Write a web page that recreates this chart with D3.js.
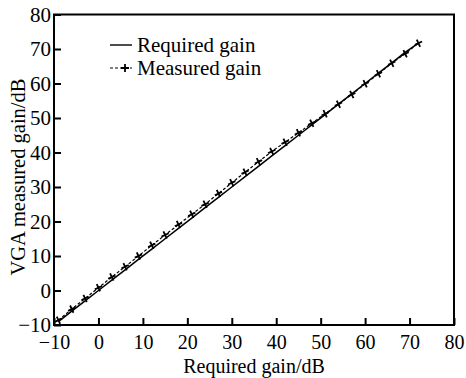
<!DOCTYPE html>
<html>
<head>
<meta charset="utf-8">
<script src="https://cdn.jsdelivr.net/npm/d3@7"></script>
<style>
  body { margin: 0; background: #fff; }
  text { font-family: "Liberation Serif", "Times New Roman", serif; fill: #000; }
</style>
</head>
<body>
<div id="chart"></div>
<script>
// data
var requiredX = [-9, -6, -3, 0, 3, 6, 9, 12, 15, 18, 21, 24, 27, 30, 33, 36, 39, 42, 45, 48, 51, 54, 57, 60, 63, 66, 69, 72];
var requiredY = [-9, -6, -3, 0, 3, 6, 9, 12, 15, 18, 21, 24, 27, 30, 33, 36, 39, 42, 45, 48, 51, 54, 57, 60, 63, 66, 69, 71.7];
var measuredX = [-9, -6, -3, 0, 3, 6, 9, 12, 15, 18, 21, 24, 27, 30, 33, 36, 39, 42, 45, 48, 51, 54, 57, 60, 63, 66, 69, 72];
var measuredY = [-8.6, -5.4, -2.3, 0.8, 3.9, 6.9, 10.0, 13.1, 16.1, 19.1, 22.1, 25.0, 28.1, 31.2, 34.3, 37.3, 40.3, 43.0, 45.7, 48.5, 51.2, 54.0, 56.8, 59.9, 62.8, 65.9, 68.6, 71.7];
var xTicks = [-10, 0, 10, 20, 30, 40, 50, 60, 70, 80];
var yTicks = [-10, 0, 10, 20, 30, 40, 50, 60, 70, 80];
var seriesNames = ["Required gain", "Measured gain"];

var margin = {top: 14.5, right: 12, bottom: 53, left: 54},
    width = 466 - margin.left - margin.right,
    height = 378 - margin.top - margin.bottom;

var svg = d3.select("#chart")
  .append("svg")
    .attr("width", 466)
    .attr("height", 378)
  .append("g")
    .attr("transform", "translate(" + margin.left + "," + margin.top + ")");

var x = d3.scaleLinear().domain([-10, 80]).range([0, width]);
var y = d3.scaleLinear().domain([-10, 80]).range([height, 0]);

// frame
svg.append("rect")
  .attr("width", width)
  .attr("height", height)
  .attr("fill", "none")
  .attr("stroke", "#000")
  .attr("stroke-width", 2);

// x axis, ticks pointing in
var xAxis = svg.append("g")
  .attr("transform", "translate(0," + height + ")")
  .call(d3.axisBottom(x).tickValues(xTicks).tickSizeInner(-7).tickSizeOuter(0).tickPadding(10));
xAxis.select(".domain").remove();
xAxis.selectAll("line").attr("stroke-width", 2);
xAxis.selectAll("text").style("font-size", "20px").style("font-family", "Liberation Serif");

// y axis
var yAxis = svg.append("g")
  .call(d3.axisLeft(y).tickValues(yTicks).tickSizeInner(-7).tickSizeOuter(0).tickPadding(3));
yAxis.select(".domain").remove();
yAxis.selectAll("line").attr("stroke-width", 2);
yAxis.selectAll("text").style("font-size", "21px").style("font-family", "Liberation Serif");

// axis titles
svg.append("text")
  .attr("x", width / 2)
  .attr("y", 373 - margin.top)
  .style("text-anchor", "middle")
  .style("font-size", "20px")
  .text("Required gain/dB");
svg.append("text")
  .attr("transform", "rotate(-90)")
  .attr("x", -(177 - margin.top))
  .attr("y", -29)
  .style("text-anchor", "middle")
  .style("font-size", "20.5px")
  .text("VGA measured gain/dB");

// required gain line
var req = requiredX.map(function (d, i) { return [d, requiredY[i]]; });
var meas = measuredX.map(function (d, i) { return [d, measuredY[i]]; });
var line = d3.line()
  .x(function (d) { return x(d[0]); })
  .y(function (d) { return y(d[1]); });

svg.append("path")
  .datum(req)
  .attr("d", line)
  .attr("fill", "none")
  .attr("stroke", "#000")
  .attr("stroke-width", 1.5);

svg.append("path")
  .datum(meas)
  .attr("d", line)
  .attr("fill", "none")
  .attr("stroke", "#000")
  .attr("stroke-width", 1.2)
  .attr("stroke-dasharray", "3,2");

var plus = "M-4,0H4M0,-4V4";
svg.append("g")
  .selectAll("path")
  .data(meas)
  .enter()
  .append("path")
    .attr("transform", function (d) { return "translate(" + x(d[0]) + "," + y(d[1]) + ") rotate(-25)"; })
    .attr("d", plus)
    .attr("stroke", "#000")
    .attr("stroke-width", 1.8);

// legend
var lg = svg.append("g").attr("transform", "translate(" + (110 - margin.left) + "," + (45 - margin.top) + ")");
lg.append("line").attr("x1", 0).attr("x2", 22).attr("y1", 0).attr("y2", 0)
  .attr("stroke", "#000").attr("stroke-width", 1.4);
lg.append("text").attr("x", 27).attr("y", 7).style("font-size", "21px").text(seriesNames[0]);
lg.append("line").attr("x1", 0).attr("x2", 22).attr("y1", 23).attr("y2", 23)
  .attr("stroke", "#000").attr("stroke-width", 1.2).attr("stroke-dasharray", "3,2");
lg.append("path").attr("transform", "translate(15,23)").attr("d", plus)
  .attr("stroke", "#000").attr("stroke-width", 1.8);
lg.append("text").attr("x", 27).attr("y", 30).style("font-size", "21px").text(seriesNames[1]);
</script>
</body>
</html>
